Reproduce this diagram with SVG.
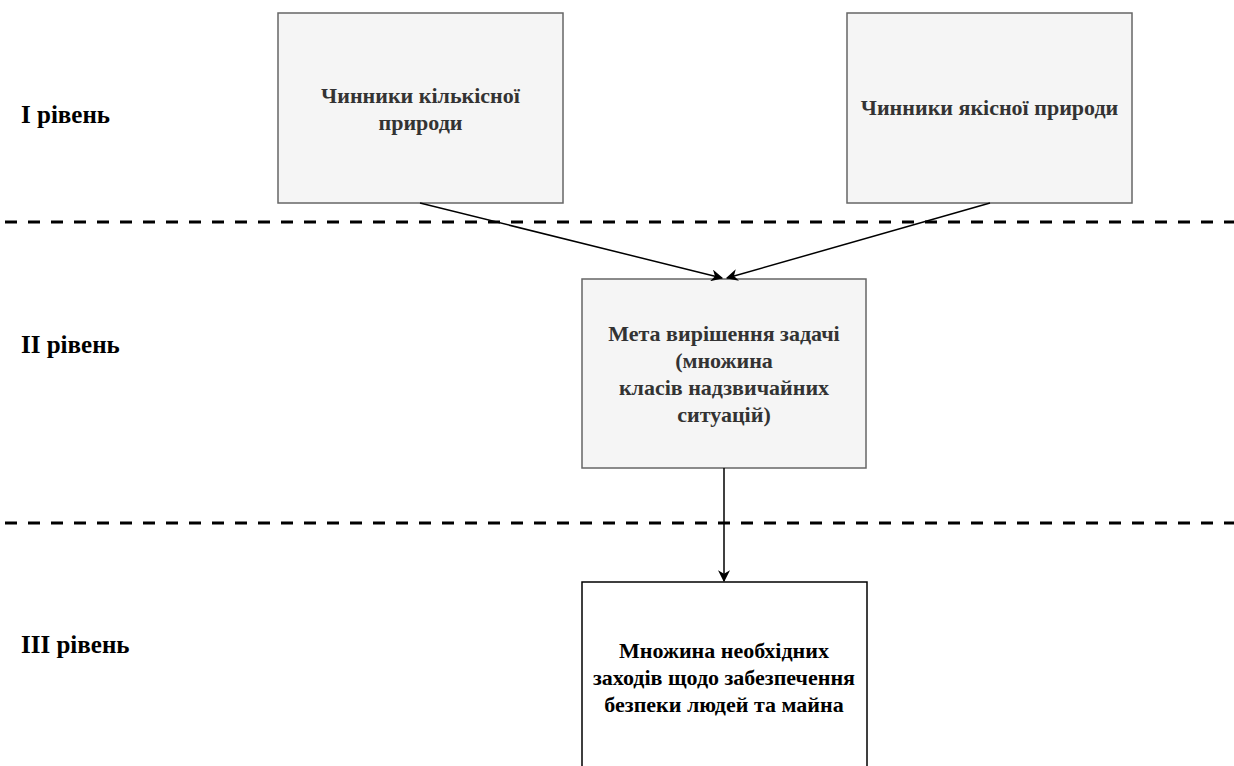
<svg xmlns="http://www.w3.org/2000/svg" width="1234" height="766" viewBox="0 0 1234 766">
<defs>
<style>
.box{fill:#f5f5f5;stroke:#666666;stroke-width:1.5}
.box2{fill:#ffffff;stroke:#000000;stroke-width:1.5}
.t{font-family:"Liberation Serif","Times New Roman",serif;font-weight:bold;font-size:22px;text-anchor:middle;fill:#333333}
.tb{fill:#000000}
.lvl{font-family:"Liberation Serif","Times New Roman",serif;font-weight:bold;font-size:25px;fill:#000000}
.dash{stroke:#000000;stroke-width:3;stroke-dasharray:12 11;fill:none}
.conn{stroke:#000000;stroke-width:1.5;fill:none}
</style>
<marker id="arr" viewBox="0 0 10 10" refX="9" refY="5" markerWidth="12" markerHeight="12" markerUnits="userSpaceOnUse" orient="auto">
<path d="M0,0 L10,5 L0,10 L3,5 Z" fill="#000000"/>
</marker>
</defs>
<rect width="1234" height="766" fill="#ffffff"/>
<g id="levels">
<text class="lvl" x="21" y="123">I рівень</text>
<text class="lvl" x="21" y="353">II рівень</text>
<text class="lvl" x="21" y="653">III рівень</text>
</g>
<g id="separators">
<line class="dash" x1="5" y1="222" x2="1234" y2="222"/>
<line class="dash" x1="5" y1="523" x2="1234" y2="523"/>
</g>
<g id="node1">
<rect class="box" x="278" y="13" width="285" height="190"/>
<text class="t" x="420.5" y="103">Чинники кількісної</text>
<text class="t" x="420.5" y="130">природи</text>
</g>
<g id="node2">
<rect class="box" x="847" y="13" width="285" height="190"/>
<text class="t" x="989.5" y="115">Чинники якісної природи</text>
</g>
<g id="node3">
<rect class="box" x="582" y="279" width="284" height="189"/>
<text class="t" x="724" y="341">Мета вирішення задачі</text>
<text class="t" x="724" y="368">(множина</text>
<text class="t" x="724" y="395">класів надзвичайних</text>
<text class="t" x="724" y="422">ситуацій)</text>
</g>
<g id="node4">
<rect class="box2" x="582" y="582" width="285" height="200"/>
<text class="t tb" x="724" y="658">Множина необхідних</text>
<text class="t tb" x="724" y="685">заходів щодо забезпечення</text>
<text class="t tb" x="724" y="712">безпеки людей та майна</text>
</g>
<g id="connectors">
<line class="conn" x1="420" y1="203" x2="722" y2="278" marker-end="url(#arr)"/>
<line class="conn" x1="990" y1="203" x2="727" y2="278" marker-end="url(#arr)"/>
<line class="conn" x1="724" y1="468" x2="724" y2="581" marker-end="url(#arr)"/>
</g>
</svg>
